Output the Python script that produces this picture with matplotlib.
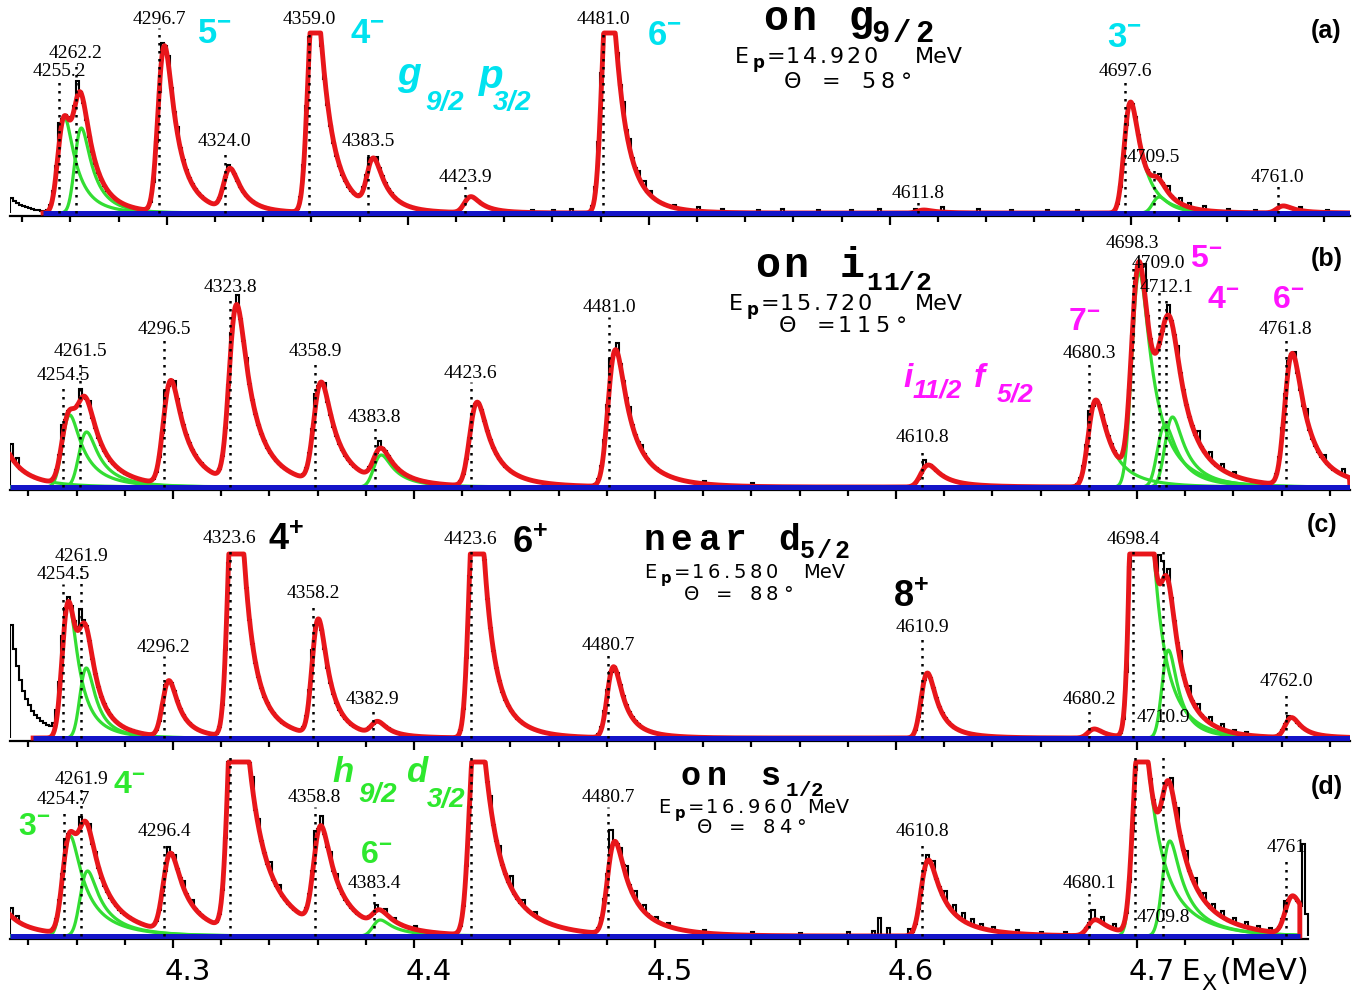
import math
import numpy as np
import matplotlib
matplotlib.use("Agg")
import matplotlib.pyplot as plt
from matplotlib.ticker import FixedLocator

# reference picture size (px)
W, H = 1365, 993

#---------------- data ----------------#
# heights are counts in "pixel" units above each panel's baseline

# (a) on g9/2
a_E   = [4255.2, 4262.2, 4296.7, 4324.0, 4359.0, 4383.5, 4423.9, 4481.0, 4611.8, 4697.6, 4709.5, 4761.0]
a_H   = [96, 85, 166, 41, 230, 48, 16, 240, 3, 111, 16, 7]
a_lab = ['4255.2', '4262.2', '4296.7', '4324.0', '4359.0', '4383.5', '4423.9', '4481.0', '4611.8', '4697.6', '4709.5', '4761.0']
a_ly  = [141, 160, 194, 71, 193, 71, 36, 193, 20, 141, 55, 36]
a_dot = [132, 151, 185, 62, 184, 62, 27, 184, 11, 132, 46, 27]
a_grn = [1, 1, 0, 0, 0, 0, 0, 0, 0, 1, 1, 0]
a_bgE = [4225.0]
a_bgH = [50]
a_sE = [4255.5, 4262.5, 4297.5, 4300.0, 4304.0, 4325.0, 4384.0, 4386.5, 4452, 4460, 4468, 4486, 4489,
        4492, 4495, 4498, 4501, 4510, 4520, 4531, 4545, 4556, 4570, 4584, 4596, 4610, 4622, 4637,
        4650, 4665, 4678, 4712, 4716, 4720, 4724, 4731, 4740, 4752, 4770, 4782]
a_sH = [15, 13, 12, 6, 5, 4, 5, 4, 3, 3, 4, 6, 8,
        7, 5, 6, 4, 3, 4, 3, 3, 4, 3, 3, 4, 3, 5, 4,
        3, 3, 3, 5, 6, 5, 4, 4, 3, 3, 4, 3]

# (b) on i11/2
b_E   = [4222.0, 4254.5, 4261.5, 4296.5, 4323.8, 4358.9, 4383.8, 4423.6, 4481.0, 4610.8, 4680.3, 4698.3, 4709.0, 4712.1, 4761.8]
b_H   = [80, 72, 55, 104, 177, 100, 32, 84, 137, 22, 87, 215, 62, 70, 132]
b_lab = ['', '4254.5', '4261.5', '4296.5', '4323.8', '4358.9', '4383.8', '4423.6', '4481.0', '4610.8', '4680.3', '4698.3', '4709.0', '4712.1', '4761.8']
b_ly  = [0, 112, 135, 157, 200, 135, 70, 114, 179, 49, 134, 244, 224, 199, 157]
b_dot = [0, 103, 126, 148, 191, 126, 61, 105, 170, 40, 125, 224, 195, 189, 148]
b_grn = [1, 1, 1, 0, 0, 0, 1, 0, 0, 0, 1, 1, 1, 1, 0]
b_bgE = []
b_bgH = []
b_sE = [4233, 4235, 4254.5, 4262, 4265, 4297, 4300, 4324.5, 4327, 4330, 4359.5, 4363, 4385, 4424,
        4481.5, 4484, 4489, 4494, 4520, 4540, 4612, 4680.5, 4699, 4703, 4713, 4717, 4725, 4730,
        4735, 4740, 4762.5, 4766, 4770, 4778, 4785]
b_sH = [13, 8, 12, 10, 6, 15, 6, 8, 10, 6, 10, 6, 8, 3,
        12, 8, 6, 4, 3, 3, 8, 12, 5, 25, 10, 8, 10, 8,
        6, 4, 5, 6, 10, 6, 6]

# (c) near d5/2
c_E   = [4254.5, 4261.9, 4296.2, 4323.6, 4358.2, 4382.9, 4423.6, 4480.7, 4610.9, 4680.2, 4698.4, 4710.9, 4762.0]
c_H   = [136, 70, 56, 300, 116, 13, 280, 71, 65, 9, 520, 88, 20]
c_lab = ['4254.5', '4261.9', '4296.2', '4323.6', '4358.2', '4382.9', '4423.6', '4480.7', '4610.9', '4680.2', '4698.4', '4710.9', '4762.0']
c_ly  = [163, 181, 91, 199, 145, 38, 198, 92, 111, 39, 198, 20, 56]
c_dot = [154, 172, 82, 190, 136, 29, 189, 83, 102, 30, 190, 190, 47]
c_grn = [1, 1, 0, 0, 0, 0, 0, 0, 0, 0, 1, 1, 0]
c_bgE = [4225.0]
c_bgH = [280]
c_sE = [4254, 4262, 4297, 4358.5, 4709.5, 4710.8, 4713, 4718, 4722, 4726, 4730, 4735, 4740, 4746, 4763]
c_sH = [5, 15, 4, 6, 29, 20, 12, 10, 8, 8, 6, 5, 3, 3, 3]

# (d) on s1/2
d_E   = [4222.0, 4254.7, 4261.9, 4296.4, 4323.6, 4358.8, 4383.4, 4423.6, 4480.7, 4610.8, 4680.1, 4699.0, 4711.0, 4762.0]
d_H   = [50, 100, 65, 78, 300, 99, 16, 230, 93, 76, 16, 220, 95, 38]
d_lab = ['', '4254.7', '4261.9', '4296.4', '', '4358.8', '4383.4', '', '4480.7', '4610.8', '4680.1', '', '4709.8', '4761']
d_ly  = [0, 136, 156, 104, 0, 138, 53, 0, 138, 104, 53, 0, 19, 88]
d_dot = [0, 127, 147, 95, 179, 129, 44, 179, 129, 95, 44, 179, 179, 79]
d_grn = [0, 1, 1, 0, 0, 0, 1, 0, 0, 0, 0, 1, 1, 0]
d_bgE = []
d_bgH = []
d_sE = [4233, 4236, 4255, 4262, 4265, 4268, 4297.5, 4300, 4304, 4308, 4328, 4333, 4336, 4340, 4344,
        4359.5, 4362, 4365, 4368, 4384, 4388, 4392, 4400, 4426, 4432, 4436, 4440, 4445, 4450,
        4481.5, 4485, 4488, 4492, 4495, 4500, 4506, 4520, 4540, 4560, 4580, 4590, 4593, 4597, 4605,
        4612.5, 4616, 4620, 4624, 4628, 4632, 4636, 4640, 4650, 4660, 4670, 4682, 4685, 4690,
        4714, 4717, 4720, 4724, 4728, 4732, 4736, 4740, 4745, 4750, 4755, 4762, 4768.9]
d_sH = [8, 5, 10, 10, 8, 5, 10, 4, 6, 5, 10, 12, 8, 10, 6,
        14, 10, 8, 6, 6, 4, 3, 3, 4, 10, 8, 12, 6, 4,
        22, 6, 10, 8, 6, 4, 3, 3, 3, 3, 4, 5, 18, 8, 6,
        6, 8, 10, 8, 8, 6, 4, 4, 4, 3, 3, 10, 6, 5,
        10, 12, 10, 8, 8, 6, 6, 5, 5, 4, 4, 8, 66]

# line shape per panel: sigma, tail1, tail2, tail2 fraction  (keV)
SIG  = [2.0, 2.3, 2.0, 2.2]
TAU1 = [4.5, 5.0, 3.8, 5.0]
TAU2 = [10., 13., 10., 14.]
FRAC = [0.2, 0.25, 0.2, 0.3]
CAP  = [180, 1e9, 184, 174]          # flat-topped (clipped) peaks

# x axis
xt_major = [4300, 4400, 4500, 4600, 4700]
xt_labels = ['4.3', '4.4', '4.5', '4.6', '4.7']

#---------------- layout ----------------#
top_px  = [0, 222, 495, 745]
base_px = [213, 487, 738, 936]
e_left  = [4234.9, 4232.4, 4232.4, 4232.4]
PX_PER_KEV = 2.41
fit_lo  = [4248.6, 4232.4, 4242.0, 4232.4]
fit_hi  = [4790.9, 4788.4, 4788.4, 4767.6]
dat_hi  = [4790.9, 4788.4, 4788.4, 4770.0]

red_c = '#e8161b'
grn_c = '#33dd33'
blu_c = '#1414c8'
cyan = '#00e2ef'
mag = '#ff14ff'
gtxt = '#2ee82e'

plt.rcParams['mathtext.fontset'] = 'custom'
plt.rcParams['mathtext.rm'] = 'Liberation Sans'
plt.rcParams['mathtext.bf'] = 'Liberation Sans:bold'
plt.rcParams['mathtext.it'] = 'Liberation Sans:italic'

erfc = np.vectorize(math.erfc)


def exg(dx, s, t):
    return np.exp(s * s / (2 * t * t) - dx / t) * erfc((s / t - dx / s) / math.sqrt(2))


def shape(x, mu, i):
    g = np.linspace(-15, 40, 2201)
    ref = (1 - FRAC[i]) * exg(g, SIG[i], TAU1[i]) + FRAC[i] * exg(g, SIG[i], TAU2[i])
    y = (1 - FRAC[i]) * exg(x - mu, SIG[i], TAU1[i]) + FRAC[i] * exg(x - mu, SIG[i], TAU2[i])
    return y / ref.max()


fig = plt.figure(figsize=(W / 100, H / 100), dpi=100)


def ftext(x, y, s, **kw):
    return fig.text(x / W, 1 - y / H, s, **kw)


def spaced(x, y, s, step, size, family='DejaVu Sans', **kw):
    # letter-spaced text, x = left edge of first cell, y = baseline
    cx = x
    for ch in s:
        w = step * (0.6 if ch == '.' else 1.0)
        if ch != ' ':
            ftext(cx + w / 2, y, ch, ha='center', va='baseline', fontsize=size, family=family, **kw)
        cx += w
    return cx


panels = [
    (a_E, a_H, a_lab, a_ly, a_dot, a_grn, a_bgE, a_bgH, a_sE, a_sH),
    (b_E, b_H, b_lab, b_ly, b_dot, b_grn, b_bgE, b_bgH, b_sE, b_sH),
    (c_E, c_H, c_lab, c_ly, c_dot, c_grn, c_bgE, c_bgH, c_sE, c_sH),
    (d_E, d_H, d_lab, d_ly, d_dot, d_grn, d_bgE, d_bgH, d_sE, d_sH),
]

axes = []
for i, (E, Hs, lab, ly, dot, grn, bgE, bgH, sE, sH) in enumerate(panels):
    ybot = base_px[i] + 3
    ax = fig.add_axes([10 / W, 1 - ybot / H, 1340 / W, (ybot - top_px[i]) / H])
    x0 = e_left[i]
    x1 = x0 + 1340 / PX_PER_KEV
    ax.set_xlim(x0, x1)
    ax.set_ylim(-3, base_px[i] - top_px[i])
    ax.patch.set_alpha(0)
    for s in ['top', 'left', 'right']:
        ax.spines[s].set_visible(False)
    ax.spines['bottom'].set_linewidth(1.6)
    ax.set_yticks([])
    minors = [m for m in range(4240, 4781 if i < 3 else 4761, 20) if m % 100]
    ax.xaxis.set_major_locator(FixedLocator(xt_major))
    ax.xaxis.set_minor_locator(FixedLocator(minors))
    ax.tick_params(axis='x', which='major', length=6.5, width=1.6, labelbottom=False)
    ax.tick_params(axis='x', which='minor', length=4.3, width=1.6)
    if i == 3:
        ax.spines['bottom'].set_bounds(x0, 4771)

    cap = CAP[i]
    # fit curve (red) and components (green)
    xg = np.arange(fit_lo[i], fit_hi[i], 0.2)
    fit = np.zeros_like(xg)
    for e, h in zip(E, Hs):
        fit += h * shape(xg, e, i)
    for e, h, g in zip(E, Hs, grn):
        if g:
            ax.plot(xg, np.minimum(h * shape(xg, e, i), cap), color=grn_c, lw=2.3, zorder=3)
    xr = np.r_[xg, fit_hi[i]]
    yr = np.r_[np.minimum(fit, cap), 0]
    ax.plot(xr, yr, color=red_c, lw=3.5, zorder=4, solid_joinstyle='round')

    # measured spectrum (black histogram)
    bw = 1.25
    edges = np.arange(x0, dat_hi[i] + bw, bw)
    cen = edges[:-1] + bw / 2
    cnt = np.zeros_like(cen)
    for e, h in zip(E, Hs):
        cnt += h * shape(cen, e, i)
    for e, h in zip(bgE, bgH):
        cnt += h * shape(cen, e, i)
    for e, h in zip(sE, sH):
        k = int((e - x0) / bw)
        if 0 <= k < len(cnt):
            cnt[k] += h
    ax.stairs(np.minimum(cnt, cap), edges, color='k', lw=1.5, zorder=2)

    # baseline
    ax.plot([fit_lo[i], fit_hi[i]], [0, 0], color=blu_c, lw=3.6, zorder=5, solid_capstyle='butt')

    # peak markers and energies
    for e, t, y, dtop in zip(E, lab, ly, dot):
        if dtop > 0:
            ax.plot([e, e], [0, dtop], color='k', lw=1.8, linestyle=(0, (1, 2.2)), zorder=6)
        if t:
            ax.text(e, y, t, ha='center', va='center', fontsize=14,
                    family='Liberation Serif', zorder=7)
    axes.append(ax)

# bottom energy scale
axd = axes[3]
for v, s in zip(xt_major, xt_labels):
    axd.annotate(s, (v, 0), xycoords=('data', 'axes fraction'), xytext=(15, -41),
                 textcoords='offset pixels', ha='center', va='baseline',
                 fontsize=21, family='DejaVu Sans')
ftext(1181, 980, 'E', ha='left', va='baseline', fontsize=21, family='DejaVu Sans')
ftext(1201, 990, 'X', ha='left', va='baseline', fontsize=16, family='DejaVu Sans')
ftext(1219, 980, '(MeV)', ha='left', va='baseline', fontsize=22, family='DejaVu Sans')

# panel tags
for t, x, y in [('(a)', 1326, 31), ('(b)', 1327, 259), ('(c)', 1322, 525), ('(d)', 1327, 787)]:
    ftext(x, y, t, ha='center', va='center', fontsize=18, fontweight='bold', family='Liberation Sans')

# reaction titles (typewriter, letter-spaced) with subscripts
for t, x, y, st, sz in [('on g', 761, 30, 28.5, 30), ('on i', 754, 277, 28, 30),
                        ('near d', 641, 550, 27, 26), ('on s', 677, 785, 26.5, 24)]:
    spaced(x, y, t, st, sz, family='Liberation Mono', fontweight='bold')
for t, x, y, st, sz in [('9/2', 869, 42, 22, 22), ('11/2', 866, 290, 16.5, 19),
                        ('5/2', 799, 558, 17, 18), ('1/2', 785, 796, 13, 15)]:
    spaced(x, y, t, st, sz, family='Liberation Mono', fontweight='bold')

# beam energy and angle lines
for x, y, st, sz, rest, xm in [(733, 63, 17, 16, '=14.920', 915), (727, 310, 17, 16, '=15.720', 915),
                               (642, 578, 16, 14, '=16.580', 803), (656, 813, 16, 14, '=16.960', 807)]:
    spaced(x, y, 'E', st, sz)
    ftext(x + st * 1.5, y + 5, 'p', ha='center', va='baseline', fontsize=sz * 0.75,
          family='DejaVu Sans', fontweight='bold')
    spaced(x + 2 * st, y, rest, st, sz)
    ftext(xm, y, 'MeV', ha='left', va='baseline', fontsize=sz, family='DejaVu Sans')
for x, y, st, sz, s in [(783, 88, 19, 16, 'Θ = 58°'), (778, 332, 19, 16, 'Θ =115°'),
                        (684, 600, 16, 14, 'Θ = 88°'), (697, 833, 16, 14, 'Θ = 84°')]:
    spaced(x, y, s, st, sz)

# spin labels
spins = [('5', '-', 197, 43, cyan, 25), ('4', '-', 350, 43, cyan, 25), ('6', '-', 647, 45, cyan, 25),
         ('3', '-', 1107, 47, cyan, 25),
         ('7', '-', 1068, 330, mag, 23), ('5', '-', 1190, 267, mag, 23), ('4', '-', 1207, 308, mag, 23),
         ('6', '-', 1272, 308, mag, 23),
         ('4', '+', 268, 550, 'k', 26), ('6', '+', 512, 553, 'k', 26), ('8', '+', 893, 607, 'k', 26),
         ('3', '-', 18, 835, gtxt, 23), ('4', '-', 113, 793, gtxt, 23), ('6', '-', 360, 863, gtxt, 23)]
for n, sg, x, y, c, sz in spins:
    ftext(x, y, r'$\mathbf{%s}^{\mathbf{%s}}$' % (n, sg), ha='left', va='baseline', fontsize=sz, color=c)

# orbital labels (bold italic)
orb = [('g', 397, 85, 28, cyan), ('9/2', 425, 110, 20, cyan), ('p', 479, 88, 29, cyan), ('3/2', 493, 110, 20, cyan),
       ('i', 903, 387, 24, mag), ('11/2', 913, 397, 19, mag), ('f', 974, 387, 24, mag), ('5/2', 997, 402, 19, mag),
       ('h', 332, 782, 25, gtxt), ('9/2', 358, 802, 20, gtxt), ('d', 406, 782, 25, gtxt), ('3/2', 427, 807, 20, gtxt)]
for t, x, y, sz, c in orb:
    ftext(x, y, t, ha='left', va='baseline', fontsize=sz, color=c, fontweight='bold',
          fontstyle='italic', family='Liberation Sans')

fig.savefig('out.png', dpi=100)
